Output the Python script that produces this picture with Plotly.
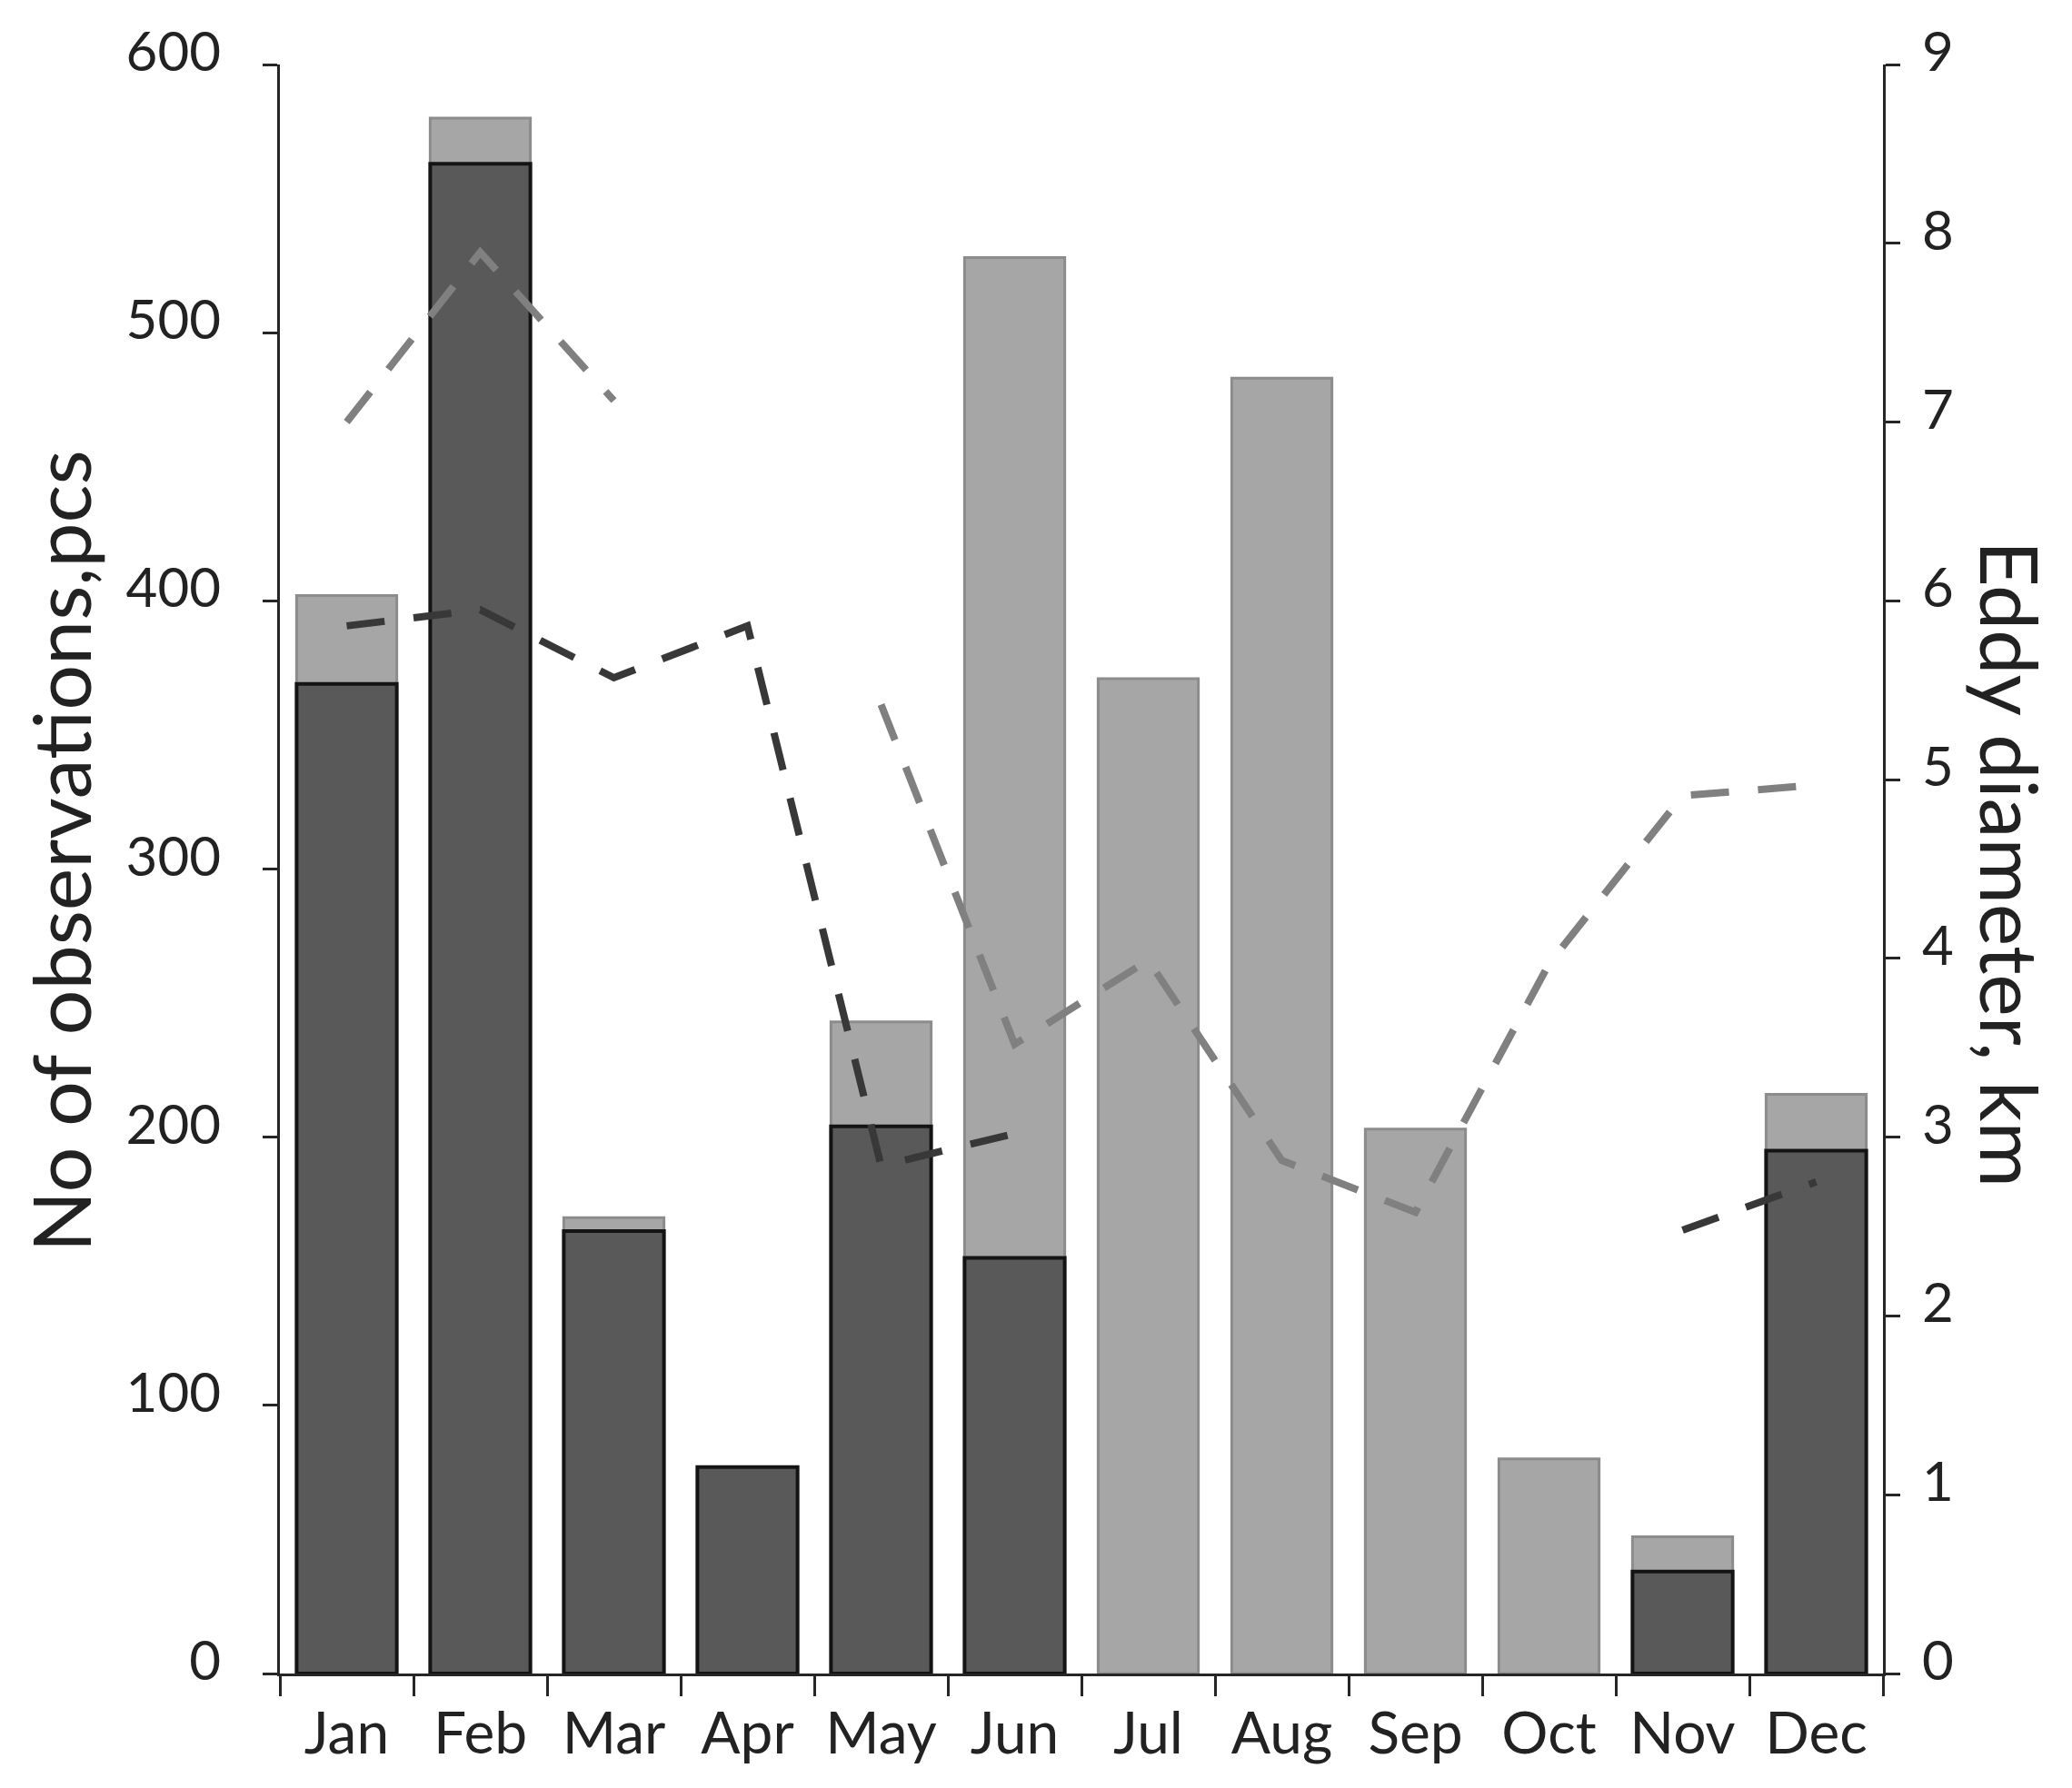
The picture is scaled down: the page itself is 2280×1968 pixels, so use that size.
import plotly.graph_objects as go

months = ["Jan", "Feb", "Mar", "Apr", "May", "Jun", "Jul", "Aug", "Sep", "Oct", "Nov", "Dec"]
obs_total = [402, 580, 170, 77, 243, 528, 371, 483, 203, 80, 51, 216]
obs_dark = [369, 563, 165, 77, 204, 155, None, None, None, None, 38, 195]
diam_light = [7.0, 7.95, 7.12, None, 5.42, 3.52, 3.99, 2.87, 2.58, 3.97, 4.91, 4.97]
diam_dark = [5.86, 5.95, 5.57, 5.86, 2.84, 3.02, None, None, None, None, 2.48, 2.75]

FONT = "Lato"
AX = "#262626"
TXT = "#222222"

fig = go.Figure()
fig.add_trace(go.Bar(x=months, y=obs_total, marker=dict(color="#a6a6a6", line=dict(color="#8c8c8c", width=3)),
                     yaxis="y"))
fig.add_trace(go.Bar(x=months, y=obs_dark, marker=dict(color="#595959", line=dict(color="#141414", width=4)),
                     yaxis="y"))
fig.add_trace(go.Scatter(x=months, y=diam_light, mode="lines", connectgaps=False,
                         line=dict(color="#808080", width=8, dash="42px,32px"), yaxis="y2"))
fig.add_trace(go.Scatter(x=months, y=diam_dark, mode="lines", connectgaps=False,
                         line=dict(color="#383838", width=8, dash="42px,32px"), yaxis="y2"))

fig.update_layout(
    width=2280, height=1968,
    margin=dict(l=300, r=216, t=63, b=134),
    paper_bgcolor="white", plot_bgcolor="white",
    barmode="overlay", bargap=0.25, showlegend=False,
    font=dict(family=FONT, color=TXT, size=60),
    xaxis=dict(range=[-0.5, 11.5], showline=True, linecolor=AX, linewidth=3,
               ticks="outside", tickson="boundaries", ticklen=22, tickwidth=3, tickcolor=AX,
               tickfont=dict(size=64, family=FONT, color=TXT), showgrid=False, zeroline=False,
               ticklabelstandoff=8),
    yaxis=dict(range=[0, 600], dtick=100, showline=True, linecolor=AX, linewidth=3,
               ticks="outside", ticklen=16, tickwidth=3, tickcolor=AX, showgrid=False, zeroline=False,
               tickfont=dict(size=60, family=FONT, color=TXT), ticklabelstandoff=34, ticklabelshift=-14),
    yaxis2=dict(range=[0, 9], dtick=1, overlaying="y", side="right", showline=True, linecolor=AX, linewidth=3,
                ticks="outside", ticklen=16, tickwidth=3, tickcolor=AX, showgrid=False, zeroline=False,
                tickfont=dict(size=60, family=FONT, color=TXT), ticklabelstandoff=12, ticklabelshift=-14),
    annotations=[
        dict(text="No of observations,pcs", xref="paper", yref="paper", x=-0.137, y=0.511,
             xanchor="center", yanchor="middle", textangle=-90, showarrow=False,
             font=dict(size=88, family=FONT, color=TXT)),
        dict(text="Eddy diameter, km", xref="paper", yref="paper", x=1.080, y=0.503,
             xanchor="center", yanchor="middle", textangle=90, showarrow=False,
             font=dict(size=88, family=FONT, color=TXT)),
    ],
)

fig.write_html("out.html")
